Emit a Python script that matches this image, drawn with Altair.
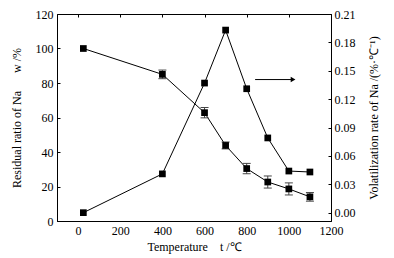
import altair as alt
import pandas as pd

temps = [25, 400, 600, 700, 800, 900, 1000, 1100]
residual = [100, 85, 62.8, 43.8, 30.4, 22.6, 18.6, 14.0]
residual_err = [0, 2.5, 3.0, 2.0, 3.0, 3.5, 3.5, 2.5]
volat = [0.0, 0.041, 0.137, 0.193, 0.131, 0.079, 0.044, 0.043]

x_ticks = [0, 200, 400, 600, 800, 1000, 1200]
left_ticks = [0, 20, 40, 60, 80, 100, 120]
right_ticks = [0.0, 0.03, 0.06, 0.09, 0.12, 0.15, 0.18, 0.21]

arrow_x = [840, 1020]
arrow_y = 82

FONT = "Liberation Serif"

df = pd.DataFrame({
    "t": temps,
    "res": residual,
    "lo": [r - e for r, e in zip(residual, residual_err)],
    "hi": [r + e for r, e in zip(residual, residual_err)],
    "vol": volat,
})
df_err = df[[e > 0 for e in residual_err]]

xscale = alt.Scale(domain=[-100, 1200], nice=False)
lscale = alt.Scale(domain=[0, 120], nice=False)
rscale = alt.Scale(domain=[-0.0088, 0.21], nice=False)

common = dict(grid=True, gridDash=[3, 1000], gridColor="black", gridOpacity=1, gridWidth=1,
              ticks=False, domainColor="black", labelOverlap=False, labelFlush=False,
              labelFont=FONT, titleFont=FONT, labelFontSize=12, titleFontSize=12,
              labelColor="black", titleColor="black", titleFontWeight="normal")

xaxis = alt.Axis(values=x_ticks, format="d", title="Temperature\u00a0\u00a0\u00a0\u00a0t /\u2103",
                 labelPadding=4, titlePadding=5, **common)
laxis = alt.Axis(values=left_ticks, orient="left",
                 title="Residual ratio of Na\u00a0\u00a0\u00a0\u00a0\u00a0\u00a0w /%",
                 labelPadding=4, titlePadding=12, **common)
raxis = alt.Axis(values=right_ticks, orient="right", format=".2f",
                 title="Volatilization rate of Na /(%\u00b7\u2103\u207b\u00b9)",
                 titleAngle=270, titleBaseline="top",
                 labelPadding=3, titlePadding=13, **common)

X = lambda f: alt.X(f, scale=xscale, axis=xaxis)
YL = lambda f: alt.Y(f, scale=lscale, axis=laxis)
YR = lambda f: alt.Y(f, scale=rscale, axis=raxis)

base = alt.Chart(df)

res_line = base.mark_line(color="black", strokeWidth=1).encode(x=X("t:Q"), y=YL("res:Q"))
res_pts = base.mark_point(shape="square", filled=True, color="black", size=45, opacity=1).encode(
    x=X("t:Q"), y=YL("res:Q"))
err_rule = alt.Chart(df_err).mark_rule(color="#444", strokeWidth=1).encode(
    x=X("t:Q"), y=YL("lo:Q"), y2="hi:Q")
cap_lo = alt.Chart(df_err).mark_tick(color="#444", thickness=1, size=8, orient="horizontal", opacity=1).encode(
    x=X("t:Q"), y=YL("lo:Q"))
cap_hi = alt.Chart(df_err).mark_tick(color="#444", thickness=1, size=8, orient="horizontal", opacity=1).encode(
    x=X("t:Q"), y=YL("hi:Q"))

arr_df = pd.DataFrame({"x1": [arrow_x[0]], "x2": [arrow_x[1]], "y": [arrow_y]})
arrow_line = alt.Chart(arr_df).mark_rule(color="black", strokeWidth=1).encode(
    x=X("x1:Q"), x2="x2:Q", y=YL("y:Q"))
arrow_head = alt.Chart(arr_df).mark_point(shape="triangle-right", filled=True, color="black", size=30, opacity=1).encode(
    x=X("x2:Q"), y=YL("y:Q"))

left = alt.layer(res_line, err_rule, cap_lo, cap_hi, res_pts, arrow_line, arrow_head)

vol_line = base.mark_line(color="black", strokeWidth=1).encode(x=X("t:Q"), y=YR("vol:Q"))
vol_pts = base.mark_point(shape="square", filled=True, color="black", size=45, opacity=1).encode(
    x=X("t:Q"), y=YR("vol:Q"))
right = alt.layer(vol_line, vol_pts)

chart = alt.layer(left, right).resolve_scale(y="independent").properties(
    width=274, height=207,
    background="white",
    autosize=alt.AutoSizeParams(type="none"),
    padding={"left": 57, "top": 14, "right": 63, "bottom": 37},
).configure_view(stroke="black", strokeWidth=1)

chart.save("out.html", embed_options={"renderer": "svg", "actions": False})
